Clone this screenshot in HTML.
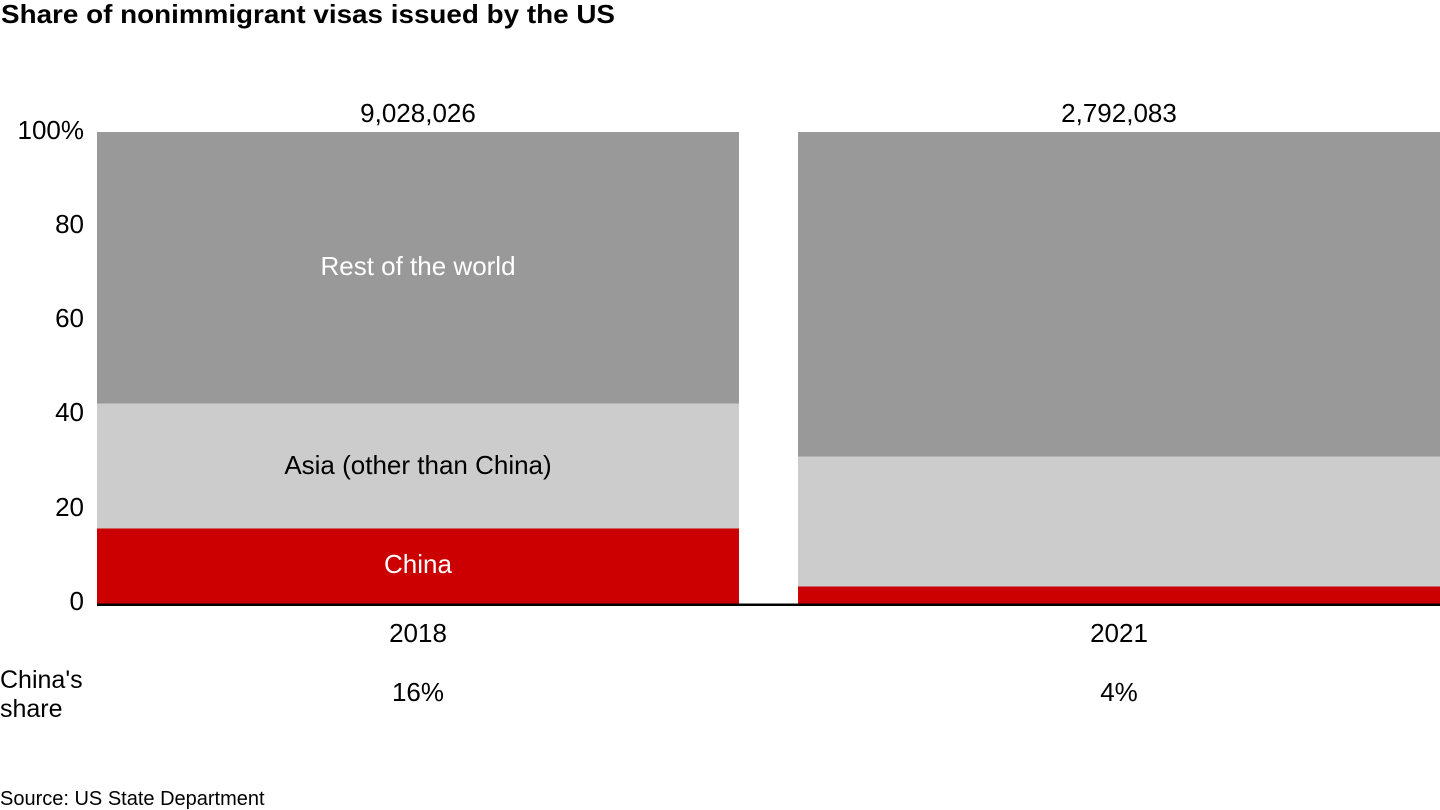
<!DOCTYPE html>
<html>
<head>
<meta charset="utf-8">
<style>
  html, body { margin:0; padding:0; background:#ffffff; }
  svg { display:block; }
  text { font-family: "Liberation Sans", Arial, sans-serif; }
</style>
</head>
<body>
<svg width="1440" height="810" viewBox="0 0 1440 810" xmlns="http://www.w3.org/2000/svg">
  <rect x="0" y="0" width="1440" height="810" fill="#ffffff"/>

  <!-- Title -->
  <text x="1" y="23" font-size="26" font-weight="bold" fill="#000" textLength="614" lengthAdjust="spacingAndGlyphs">Share of nonimmigrant visas issued by the US</text>

  <!-- Y axis labels -->
  <g font-size="26" fill="#000" text-anchor="end">
    <text x="84" y="139">100%</text>
    <text x="84" y="233">80</text>
    <text x="84" y="327">60</text>
    <text x="84" y="421">40</text>
    <text x="84" y="516">20</text>
    <text x="84" y="610">0</text>
  </g>

  <!-- Bar 2018 -->
  <rect x="97" y="132" width="642" height="271.5" fill="#999999"/>
  <rect x="97" y="403.5" width="642" height="125" fill="#cccccc"/>
  <rect x="97" y="528.5" width="642" height="75.5" fill="#cc0000"/>

  <!-- Bar 2021 -->
  <rect x="798" y="132" width="642" height="324.5" fill="#999999"/>
  <rect x="798" y="456.5" width="642" height="130" fill="#cccccc"/>
  <rect x="798" y="586.5" width="642" height="17.5" fill="#cc0000"/>

  <!-- Baseline -->
  <rect x="97" y="603.5" width="1343" height="2.5" fill="#000000"/>

  <!-- Totals -->
  <g font-size="26" fill="#000" text-anchor="middle">
    <text x="418" y="122">9,028,026</text>
    <text x="1119" y="122">2,792,083</text>
  </g>

  <!-- Segment labels -->
  <g font-size="26" text-anchor="middle">
    <text x="418" y="275" fill="#ffffff">Rest of the world</text>
    <text x="418" y="474" fill="#000000">Asia (other than China)</text>
    <text x="418" y="573" fill="#ffffff">China</text>
  </g>

  <!-- X labels -->
  <g font-size="26" fill="#000" text-anchor="middle">
    <text x="418" y="642">2018</text>
    <text x="1119" y="642">2021</text>
    <text x="418" y="701">16%</text>
    <text x="1119" y="701">4%</text>
  </g>

  <!-- China's share row label -->
  <g font-size="25" fill="#000">
    <text x="0" y="688">China's</text>
    <text x="0" y="717">share</text>
  </g>

  <!-- Source -->
  <text x="0" y="805" font-size="20" fill="#000">Source: US State Department</text>
</svg>
</body>
</html>
